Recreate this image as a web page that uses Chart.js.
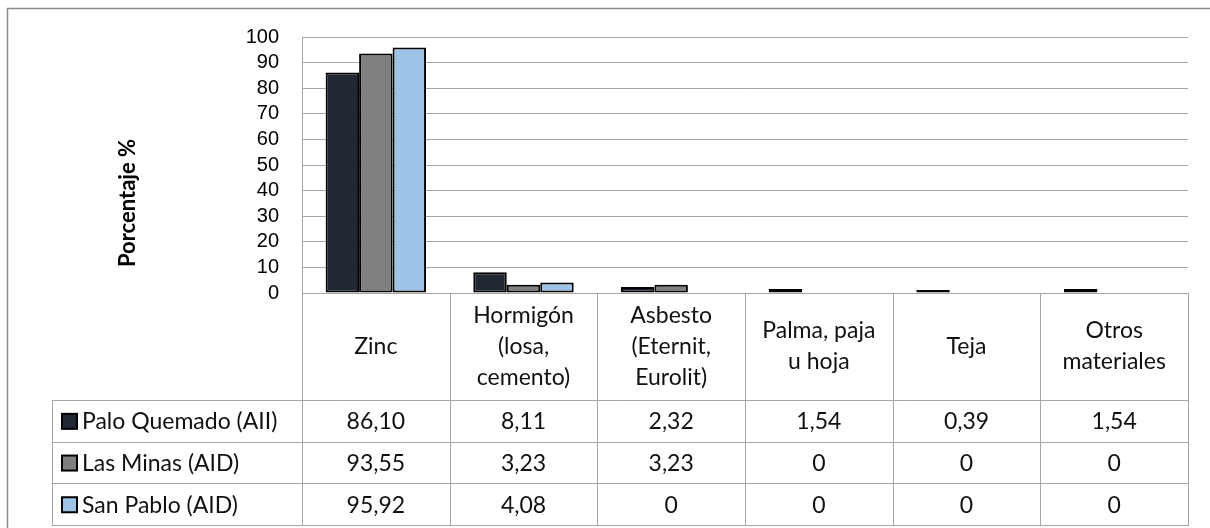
<!DOCTYPE html>
<html>
<head>
<meta charset="utf-8">
<script src="https://cdn.jsdelivr.net/npm/chart.js@4.4.1/dist/chart.umd.min.js"></script>
<style>
  html, body { margin: 0; padding: 0; background: #fff; }
  #wrap { width: 1210px; height: 528px; position: relative; }
</style>
</head>
<body>
<div id="wrap"><canvas id="chart" width="1210" height="528"></canvas></div>
<script>
// ---- Data ----
var CATEGORIES = [
  ['Zinc'],
  ['Hormigón', '(losa,', 'cemento)'],
  ['Asbesto', '(Eternit,', 'Eurolit)'],
  ['Palma, paja', 'u hoja'],
  ['Teja'],
  ['Otros', 'materiales']
];
var SERIES_NAMES = ['Palo Quemado (AII)', 'Las Minas (AID)', 'San Pablo (AID)'];
var PALO_QUEMADO = [86.10, 8.11, 2.32, 1.54, 0.39, 1.54];
var LAS_MINAS = [93.55, 3.23, 3.23, 0, 0, 0];
var SAN_PABLO = [95.92, 4.08, 0, 0, 0, 0];
var Y_MIN = 0;
var Y_MAX = 100;
var Y_STEP = 10;
var Y_TITLE = 'Porcentaje %';

var SERIES_COLORS = ['#212833', '#7f7f7f', '#9dc3e6'];
var GRID = '#a6a6a6';
var TABLE_FONT = "23px Lato, 'Open Sans', sans-serif";

function fmt(v) {
  return v === 0 ? '0' : v.toFixed(2).replace('.', ',');
}

// ---- Frame + background ----
var framePlugin = {
  id: 'frame',
  beforeDraw: function (chart) {
    var ctx = chart.ctx;
    ctx.save();
    ctx.fillStyle = '#fff';
    ctx.fillRect(0, 0, chart.width, chart.height);
    ctx.strokeStyle = '#8a8a8a';
    ctx.lineWidth = 1.5;
    ctx.strokeRect(7.5, 8.5, chart.width + 20, chart.height + 20);
    ctx.restore();
  }
};

// ---- Data table under the plot ----
var tablePlugin = {
  id: 'dataTable',
  afterDraw: function (chart) {
    var ctx = chart.ctx;
    var xs = chart.scales.x;
    var ys = chart.scales.y;
    var n = CATEGORIES.length;
    var y0 = Math.round(ys.getPixelForValue(0));
    var headBottom = y0 + 107;
    var rowH = 41.7;
    var tableBottom = headBottom + rowH * SERIES_NAMES.length;
    var legendLeft = 52;

    var edges = [xs.left];
    for (var i = 0; i < n - 1; i++) {
      edges.push((xs.getPixelForValue(i) + xs.getPixelForValue(i + 1)) / 2);
    }
    edges.push(xs.right);

    ctx.save();
    ctx.strokeStyle = GRID;
    ctx.lineWidth = 1;
    ctx.beginPath();
    edges.forEach(function (x) {
      var px = Math.round(x) + 0.5;
      ctx.moveTo(px, y0);
      ctx.lineTo(px, Math.round(tableBottom));
    });
    ctx.moveTo(legendLeft + 0.5, headBottom);
    ctx.lineTo(legendLeft + 0.5, Math.round(tableBottom));
    for (var r = 0; r <= SERIES_NAMES.length; r++) {
      var py = Math.round(headBottom + r * rowH) + 0.5;
      ctx.moveTo(legendLeft, py);
      ctx.lineTo(Math.round(xs.right) + 1, py);
    }
    ctx.stroke();

    // category labels
    ctx.fillStyle = '#111';
    ctx.font = TABLE_FONT;
    ctx.textAlign = 'center';
    ctx.textBaseline = 'middle';
    var lineH = 31;
    CATEGORIES.forEach(function (lines, i) {
      var cx = xs.getPixelForValue(i);
      var cy = (y0 + headBottom) / 2 - (lines.length - 1) * lineH / 2;
      lines.forEach(function (t, k) {
        ctx.fillText(t, cx, cy + k * lineH);
      });
    });

    // rows
    var seriesData = [PALO_QUEMADO, LAS_MINAS, SAN_PABLO];
    seriesData.forEach(function (vals, r) {
      var cy = headBottom + r * rowH + rowH / 2;
      ctx.textAlign = 'center';
      vals.forEach(function (v, i) {
        ctx.fillText(fmt(v), xs.getPixelForValue(i), cy + 1);
      });
      // legend key
      ctx.fillStyle = SERIES_COLORS[r];
      ctx.fillRect(62, cy - 7, 15, 15);
      ctx.strokeStyle = '#000';
      ctx.lineWidth = 2;
      ctx.strokeRect(62, cy - 7, 15, 15);
      ctx.fillStyle = '#111';
      ctx.textAlign = 'left';
      ctx.fillText(SERIES_NAMES[r], 82, cy + 1);
    });

    // y title
    ctx.save();
    ctx.translate(128, 203);
    ctx.rotate(-Math.PI / 2);
    ctx.font = "bold 22px Lato, 'Open Sans', sans-serif";
    ctx.textAlign = 'center';
    ctx.textBaseline = 'middle';
    ctx.fillStyle = '#000';
    ctx.fillText(Y_TITLE, 0, 0);
    ctx.restore();

    ctx.restore();
  }
};

var datasets = [PALO_QUEMADO, LAS_MINAS, SAN_PABLO].map(function (vals, i) {
  return {
    label: SERIES_NAMES[i],
    data: vals,
    backgroundColor: SERIES_COLORS[i],
    borderColor: '#000',
    borderWidth: 2,
    borderSkipped: false,
    categoryPercentage: 0.68,
    barPercentage: 1.0,
    // only the series without zero values gets a visible minimum height
    minBarLength: vals.indexOf(0) === -1 ? 3 : 0
  };
});

new Chart(document.getElementById('chart'), {
  type: 'bar',
  data: {
    labels: CATEGORIES.map(function (c) { return c.join(' '); }),
    datasets: datasets
  },
  options: {
    responsive: false,
    animation: false,
    layout: { padding: { top: 37, right: 22, bottom: 235, left: 0 } },
    plugins: {
      legend: { display: false },
      tooltip: { enabled: false },
      title: { display: false }
    },
    scales: {
      x: { display: false },
      y: {
        min: Y_MIN,
        max: Y_MAX,
        ticks: {
          stepSize: Y_STEP,
          autoSkip: false,
          color: '#000',
          padding: 23,
          font: { family: "'Liberation Sans', Arial, sans-serif", size: 20 }
        },
        grid: { color: GRID, lineWidth: 1, drawTicks: false },
        border: { display: true, color: GRID },
        afterFit: function (scale) { scale.width = 302; }
      }
    }
  },
  plugins: [framePlugin, tablePlugin]
});
</script>
</body>
</html>
